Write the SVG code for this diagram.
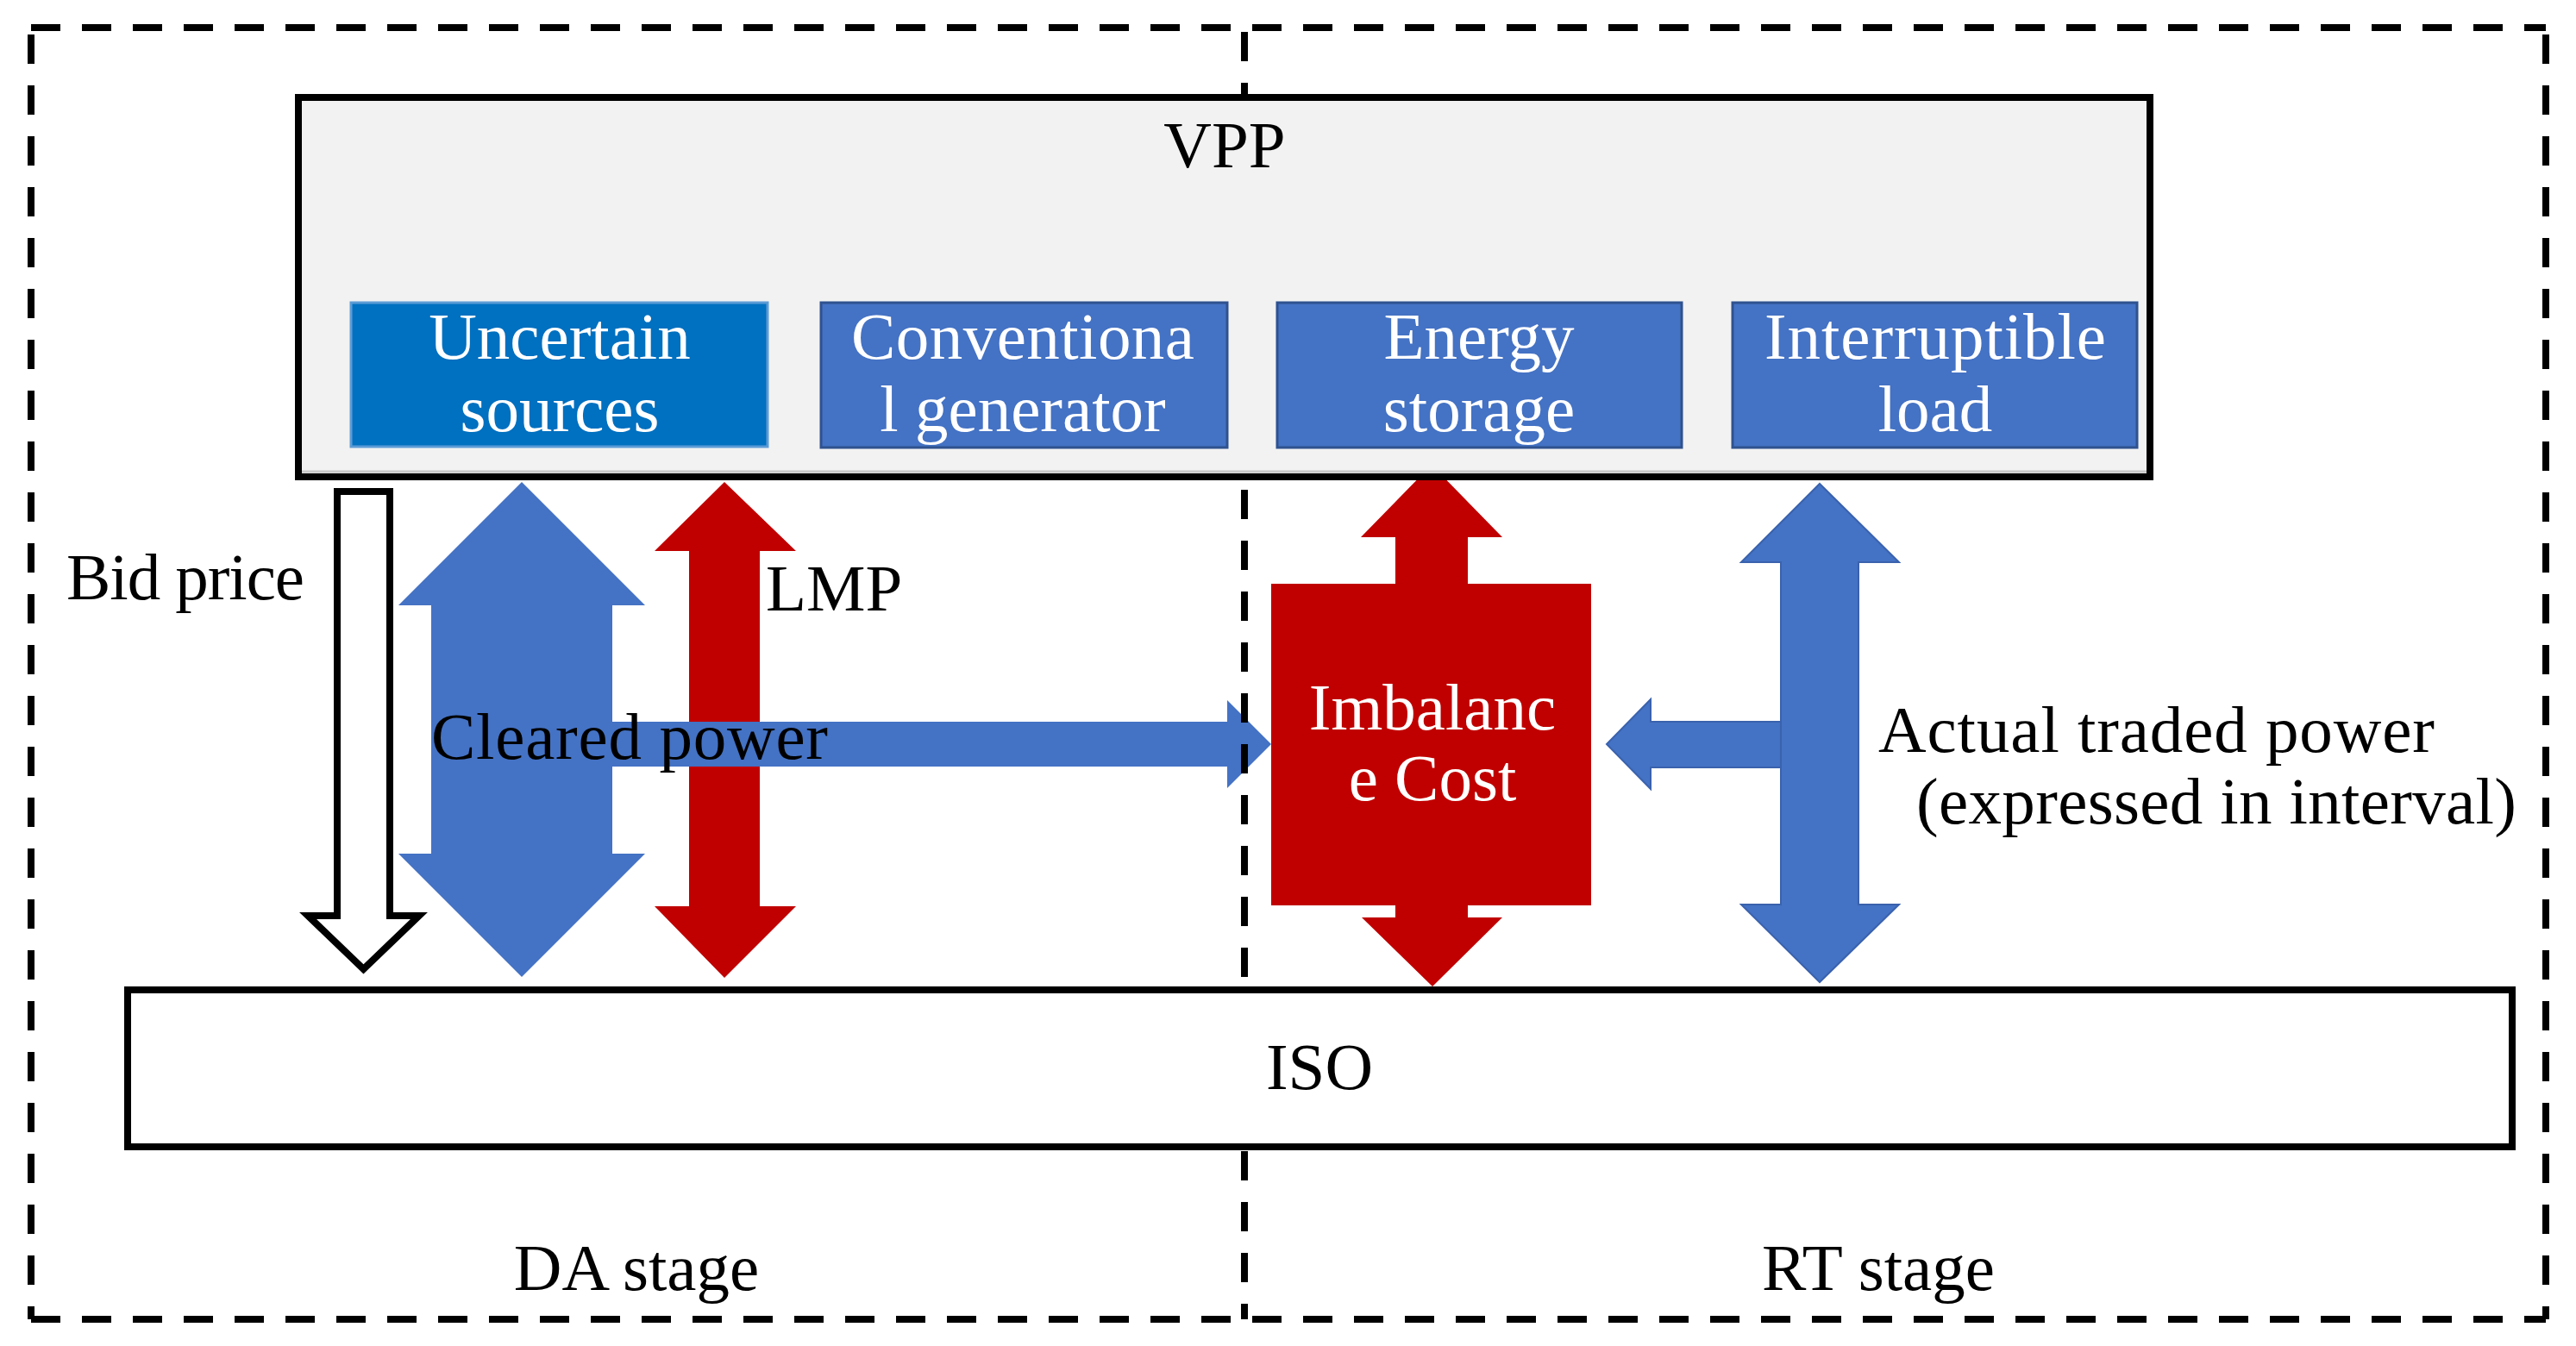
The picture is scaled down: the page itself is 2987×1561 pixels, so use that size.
<svg xmlns="http://www.w3.org/2000/svg" width="2987" height="1561" viewBox="0 0 2987 1561">
<style>
text{font-family:"Liberation Serif","Times New Roman",serif;font-size:77px;fill:#000}
.w{fill:#fff}
.c{text-anchor:middle}
.dash{stroke:#000;stroke-width:8;stroke-dasharray:34 25;fill:none}
.blue{fill:#4472C4}
.red{fill:#C00000}
.box{stroke:#000;stroke-width:8}
.sub{fill:#4472C4;stroke:#2F528F;stroke-width:3}
</style>
<rect width="2987" height="1561" fill="#fff"/>
<g id="stages">
<line class="dash" x1="36" y1="32" x2="2952" y2="32"/>
<line class="dash" x1="36" y1="40" x2="36" y2="1530"/>
<line class="dash" x1="2952" y1="40" x2="2952" y2="1530"/>
<line class="dash" x1="36" y1="1530" x2="2952" y2="1530"/>
<text class="c" x="738" y="1496">DA stage</text>
<text class="c" x="2178" y="1496">RT stage</text>
</g>
<g id="connectors">
<polygon id="bid-price-arrow" points="391,570 452,570 452,1062 486,1062 421.5,1124 357,1062 391,1062" fill="#fff" stroke="#000" stroke-width="8" stroke-linejoin="miter"/>
<polygon id="cleared-da-arrow" class="blue" points="605,559 748,702 710,702 710,990 748,990 605,1133 462,990 500,990 500,702 462,702"/>
<polygon id="lmp-arrow" class="red" points="840,559 923,639 881,639 881,1051 923,1051 840,1134 759,1051 799,1051 799,639 759,639"/>
<polygon id="cleared-to-imbalance" class="blue" points="710,837 1423,837 1423,812 1474,863 1423,914 1423,889 710,889"/>
<polygon id="imbalance-up" class="red" points="1660,539 1742,623 1702,623 1702,680 1618,680 1618,623 1578,623"/>
<polygon id="imbalance-down" class="red" points="1618,1046 1702,1046 1702,1064 1742,1064 1661,1144 1579,1064 1618,1064"/>
<polygon id="actual-to-imbalance" class="blue" points="2067,837 1914,837 1914,811 1863,863 1914,915 1914,890 2067,890" stroke="#3A62AD" stroke-width="2"/>
<polygon id="actual-rt-arrow" class="blue" points="2110,561 2202,652 2155,652 2155,1049 2202,1049 2110,1139 2019,1049 2065,1049 2065,652 2019,652" stroke="#3A62AD" stroke-width="2"/>
<line class="dash" x1="1443" y1="37" x2="1443" y2="1530"/>
<text x="77" y="695" textLength="276" lengthAdjust="spacing">Bid price</text>
<text x="888" y="708">LMP</text>
<text x="500" y="880" textLength="460" lengthAdjust="spacing">Cleared power</text>
<text x="2178" y="872" textLength="645" lengthAdjust="spacing">Actual traded power</text>
<text x="2222" y="955" textLength="696" lengthAdjust="spacing">(expressed in interval)</text>
</g>
<g id="vpp">
<rect class="box" x="346" y="113" width="2147" height="440" fill="#F2F2F2"/>
<line x1="350" y1="547" x2="2489" y2="547" stroke="#C8C8C8" stroke-width="3"/>
<text class="c" x="1420" y="194">VPP</text>
</g>
<g id="uncertain-sources">
<rect x="407" y="351" width="483" height="167" fill="#0070C0" stroke="#5B9BD5" stroke-width="3"/>
<text class="w c" x="649" y="416">Uncertain</text>
<text class="w c" x="649" y="500">sources</text>
</g>
<g id="conventional-generator">
<rect class="sub" x="952" y="351" width="471" height="168"/>
<text class="w c" x="1186" y="416" textLength="398" lengthAdjust="spacing">Conventiona</text>
<text class="w c" x="1186" y="500">l generator</text>
</g>
<g id="energy-storage">
<rect class="sub" x="1481" y="351" width="469" height="168"/>
<text class="w c" x="1715" y="416">Energy</text>
<text class="w c" x="1715" y="500">storage</text>
</g>
<g id="interruptible-load">
<rect class="sub" x="2009" y="351" width="469" height="168"/>
<text class="w c" x="2244" y="416" textLength="396" lengthAdjust="spacing">Interruptible</text>
<text class="w c" x="2244" y="500">load</text>
</g>
<g id="imbalance-cost">
<rect class="red" x="1474" y="677" width="371" height="373"/>
<text class="w c" x="1661" y="846">Imbalanc</text>
<text class="w c" x="1661" y="928">e Cost</text>
</g>
<g id="iso">
<rect class="box" x="148" y="1148" width="2765" height="182" fill="#fff"/>
<text class="c" x="1530" y="1263">ISO</text>
</g>
</svg>
